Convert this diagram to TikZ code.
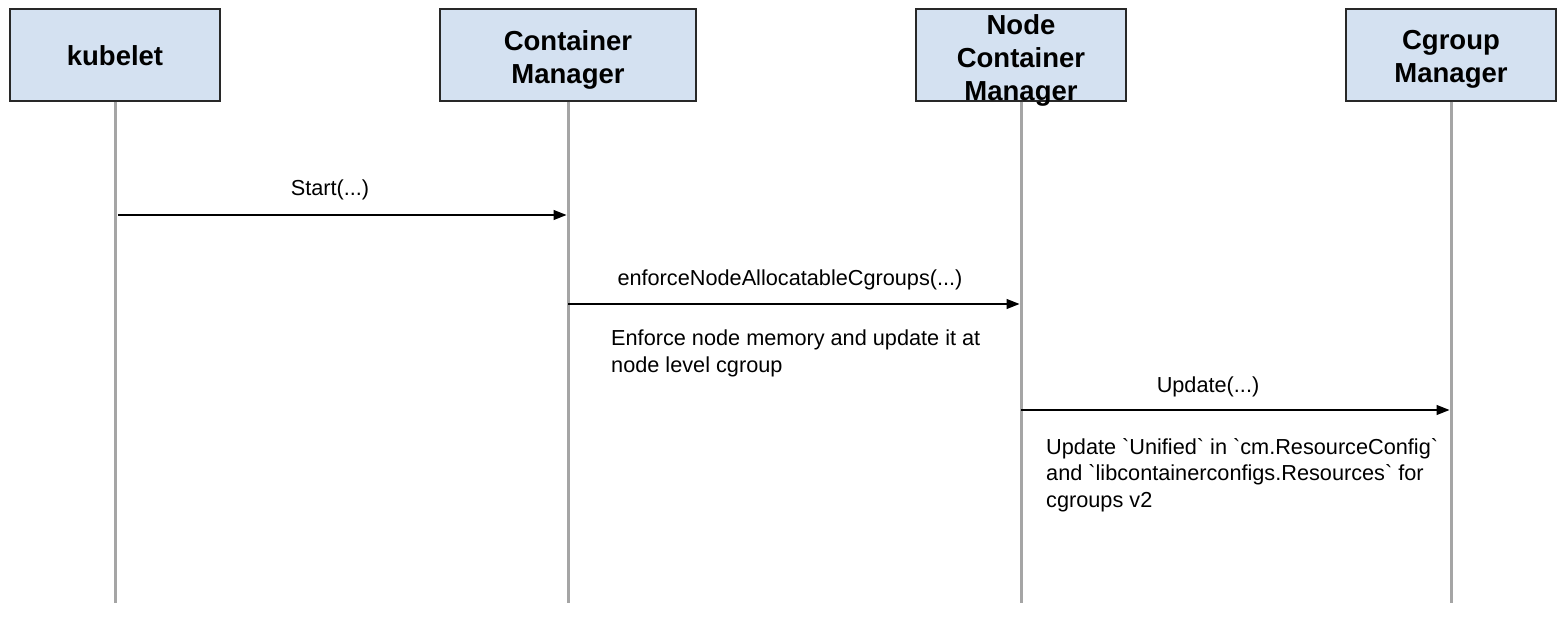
\documentclass[tikz,border=0pt]{standalone}
\usepackage{fontspec}
\setmainfont{Liberation Sans}[Ligatures=TeXOff]
\usetikzlibrary{arrows.meta}
\definecolor{boxfill}{RGB}{212,225,241}
\definecolor{boxline}{RGB}{40,40,40}
\definecolor{lifecol}{RGB}{165,165,165}
\begin{document}
\begin{tikzpicture}[x=1pt,y=-1pt,
  actorbox/.style={draw=boxline, line width=1.5pt, fill=boxfill, minimum width=210pt, minimum height=92pt, inner sep=0pt},
  actortext/.style={font=\bfseries\fontsize{27.5}{33}\selectfont, align=center, anchor=north, inner sep=0pt},
  lifeline/.style={draw=lifecol, line width=3pt},
  msg/.style={draw=black, line width=1.3pt, -{Triangle[length=13pt,width=10pt]}, shorten >=1.5pt},
  msgtext/.style={font=\fontsize{21.7}{26.8}\selectfont, anchor=base, inner sep=0pt},
  notetext/.style={font=\fontsize{21.7}{26.8}\selectfont, align=left, anchor=north west, inner sep=0pt}]
\useasboundingbox (0,0) rectangle (1568,620);
% actor boxes
\node[actorbox] (kub) at (115,55) {};
\node[actorbox, minimum width=256pt] (cm) at (568,55) {};
\node[actorbox] (ncm) at (1021,55) {};
\node[actorbox] (cg) at (1451,55) {};
% actor titles
\node[actortext] (kubT) at (115,45.5) {kubelet};
\node[actortext] (cmT) at (568,30.5) {Container\\Manager};
\node[actortext] (ncmT) at (1021,14.5) {Node\\Container\\Manager};
\node[actortext] (cgT) at (1451,30.5) {Cgroup\\Manager};
% lifeline ends
\coordinate (kubE) at (115,603);
\coordinate (cmE) at (568,603);
\coordinate (ncmE) at (1021,603);
\coordinate (cgE) at (1451,603);
\draw[lifeline] (kub.south) -- (kubE);
\draw[lifeline] (cm.south) -- (cmE);
\draw[lifeline] (ncm.south) -- (ncmE);
\draw[lifeline] (cg.south) -- (cgE);
% message anchor points
\coordinate (m1a) at (118,215);
\coordinate (m1b) at (568,215);
\coordinate (m2a) at (568,304);
\coordinate (m2b) at (1021,304);
\coordinate (m3a) at (1021,410);
\coordinate (m3b) at (1451,410);
\draw[msg] (m1a) -- (m1b);
\draw[msg] (m2a) -- (m2b);
\draw[msg] (m3a) -- (m3b);
% labels
\node[msgtext] (l1) at (330,196) {Start(...)};
\node[msgtext] (l2) at (790,285) {enforceNodeAllocatableCgroups(...)};
\node[msgtext] (l3) at (1208,392) {Update(...)};
\node[notetext] (n1) at (611,330) {Enforce node memory and update it at\\node level cgroup};
\node[notetext] (n2) at (1046,438) {Update `Unified` in `cm.ResourceConfig`\\and `libcontainerconfigs.Resources` for\\cgroups v2};
\end{tikzpicture}
\end{document}
